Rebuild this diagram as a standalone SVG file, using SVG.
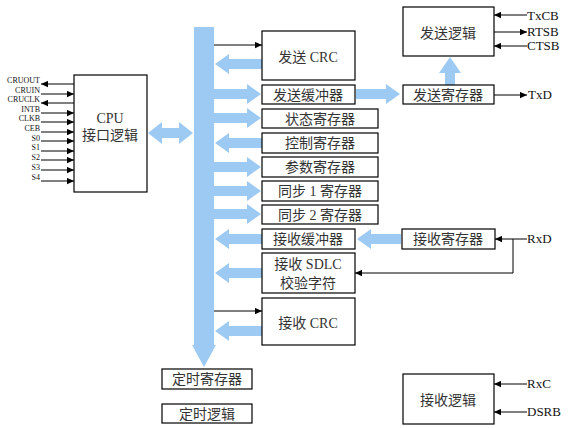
<svg xmlns="http://www.w3.org/2000/svg" xmlns:xlink="http://www.w3.org/1999/xlink" width="584" height="428" viewBox="0 0 584 428">
<style>
.box{fill:#fff;stroke:#000;stroke-width:1.2}
.t{font-family:"Liberation Serif","Noto Sans CJK SC",serif;font-size:14px;fill:#333;text-anchor:middle;dominant-baseline:central}
.sig{font-family:"Liberation Serif",serif;font-size:13px;fill:#111;dominant-baseline:central}
.lsig{font-family:"Liberation Serif",serif;font-size:8px;fill:#111;text-anchor:end;dominant-baseline:central}
.ln{stroke:#000;stroke-width:1;fill:none}
.blue{fill:#9dcaf3}
</style>
<defs>
<marker id="ah" viewBox="0 0 10 10" refX="10" refY="5" markerWidth="8" markerHeight="7" orient="auto" markerUnits="userSpaceOnUse"><path d="M0,0.5 L10,5 L0,9.5 Z" fill="#000"/></marker>
<path id="ra" d="M0,-5 H33 V-10 L47,0 L33,10 V5 H0 Z"/>
<path id="la" d="M0,0 L14,-10 V-5 H47 V5 H14 V10 Z"/>
</defs>
<rect width="584" height="428" fill="#fff"/>

<g id="connectors">
  <g class="blue">
    <rect x="194" y="27" width="20" height="318"/>
    <polygon points="192,345 216,345 204,367"/>
    <path d="M148,133 L162,122 V128 H179 V122 L193,133 L179,144 V138 H162 V144 Z"/>
    <use xlink:href="#ra" x="214" y="94"/>
    <use xlink:href="#ra" x="214" y="118"/>
    <use xlink:href="#ra" x="214" y="167"/>
    <use xlink:href="#ra" x="214" y="191"/>
    <use xlink:href="#ra" x="214" y="214"/>
    <use xlink:href="#la" x="215" y="64"/>
    <use xlink:href="#la" x="215" y="143"/>
    <use xlink:href="#la" x="215" y="239"/>
    <use xlink:href="#la" x="215" y="273"/>
    <use xlink:href="#la" x="215" y="331"/>
    <path d="M356,89 H386 V84 L400,94 L386,104 V99 H356 Z"/>
    <path d="M357,239 L371,229 V234 H401 V244 H371 V249 Z"/>
    <path d="M445,85 V73 H439 L450,57 L461,73 H455 V85 Z"/>
  </g>
  <g marker-end="url(#ah)">
    <line class="ln" x1="214" y1="45" x2="262" y2="45"/>
    <line class="ln" x1="214" y1="311" x2="262" y2="311"/>
    <line class="ln" x1="527" y1="15" x2="494" y2="15"/>
    <line class="ln" x1="494" y1="32" x2="527" y2="32"/>
    <line class="ln" x1="527" y1="46" x2="494" y2="46"/>
    <line class="ln" x1="494" y1="95" x2="527" y2="95"/>
    <line class="ln" x1="527" y1="239" x2="495" y2="239"/>
    <polyline class="ln" points="513,239 513,273 355,273"/>
    <line class="ln" x1="527" y1="384" x2="494" y2="384"/>
    <line class="ln" x1="527" y1="412" x2="494" y2="412"/>
    <line class="ln" x1="74" y1="84" x2="41" y2="84"/>
    <line class="ln" x1="41" y1="94" x2="74" y2="94"/>
    <line class="ln" x1="74" y1="103" x2="41" y2="103"/>
    <line class="ln" x1="41" y1="113" x2="74" y2="113"/>
    <line class="ln" x1="41" y1="122" x2="74" y2="122"/>
    <line class="ln" x1="41" y1="132" x2="74" y2="132"/>
    <line class="ln" x1="41" y1="141" x2="74" y2="141"/>
    <line class="ln" x1="41" y1="151" x2="74" y2="151"/>
    <line class="ln" x1="41" y1="160" x2="74" y2="160"/>
    <line class="ln" x1="41" y1="170" x2="74" y2="170"/>
    <line class="ln" x1="41" y1="181" x2="74" y2="181"/>
  </g>
</g>

<g id="signals">
  <text class="lsig" x="40" y="80">CRUOUT</text>
  <text class="lsig" x="40" y="90">CRUIN</text>
  <text class="lsig" x="40" y="99">CRUCLK</text>
  <text class="lsig" x="40" y="109">INTB</text>
  <text class="lsig" x="40" y="118">CLKB</text>
  <text class="lsig" x="40" y="128">CEB</text>
  <text class="lsig" x="40" y="138">S0</text>
  <text class="lsig" x="40" y="147">S1</text>
  <text class="lsig" x="40" y="157">S2</text>
  <text class="lsig" x="40" y="167">S3</text>
  <text class="lsig" x="40" y="177">S4</text>
  <text class="sig" x="527" y="15">TxCB</text>
  <text class="sig" x="527" y="31">RTSB</text>
  <text class="sig" x="527" y="45">CTSB</text>
  <text class="sig" x="528" y="94">TxD</text>
  <text class="sig" x="527" y="238">RxD</text>
  <text class="sig" x="527" y="383">RxC</text>
  <text class="sig" x="527" y="411">DSRB</text>
</g>

<g id="cpu"><rect class="box" x="74" y="75" width="73" height="117"/><text class="t" x="110" y="118">CPU</text><text class="t" x="110" y="135">接口逻辑</text></g>
<g id="tx-crc"><rect class="box" x="262" y="31" width="93" height="49"/><text class="t" x="308" y="57">发送 CRC</text></g>
<g id="tx-buf"><rect class="box" x="262" y="85" width="93" height="19"/><text class="t" x="308" y="95">发送缓冲器</text></g>
<g id="status"><rect class="box" x="262" y="109" width="116" height="19"/><text class="t" x="320" y="119">状态寄存器</text></g>
<g id="control"><rect class="box" x="262" y="133" width="116" height="20"/><text class="t" x="320" y="143">控制寄存器</text></g>
<g id="param"><rect class="box" x="262" y="157" width="116" height="20"/><text class="t" x="320" y="167">参数寄存器</text></g>
<g id="sync1"><rect class="box" x="262" y="181" width="116" height="20"/><text class="t" x="320" y="191">同步 1 寄存器</text></g>
<g id="sync2"><rect class="box" x="262" y="205" width="116" height="19"/><text class="t" x="320" y="215">同步 2 寄存器</text></g>
<g id="rx-buf"><rect class="box" x="262" y="229" width="93" height="20"/><text class="t" x="308" y="239">接收缓冲器</text></g>
<g id="rx-sdlc"><rect class="box" x="262" y="253" width="93" height="40"/><text class="t" x="308" y="264">接收 SDLC</text><text class="t" x="308" y="283">校验字符</text></g>
<g id="rx-crc"><rect class="box" x="262" y="298" width="93" height="47"/><text class="t" x="308" y="323">接收 CRC</text></g>
<g id="tx-logic"><rect class="box" x="403" y="7" width="91" height="49"/><text class="t" x="448" y="33">发送逻辑</text></g>
<g id="tx-reg"><rect class="box" x="403" y="85" width="91" height="19"/><text class="t" x="448" y="95">发送寄存器</text></g>
<g id="rx-reg"><rect class="box" x="402" y="229" width="93" height="20"/><text class="t" x="448" y="239">接收寄存器</text></g>
<g id="rx-logic"><rect class="box" x="403" y="374" width="91" height="50"/><text class="t" x="448" y="400">接收逻辑</text></g>
<g id="timer-reg"><rect class="box" x="162" y="369" width="90" height="20"/><text class="t" x="207" y="379">定时寄存器</text></g>
<g id="timer-logic"><rect class="box" x="162" y="404" width="90" height="19"/><text class="t" x="207" y="414">定时逻辑</text></g>
</svg>
